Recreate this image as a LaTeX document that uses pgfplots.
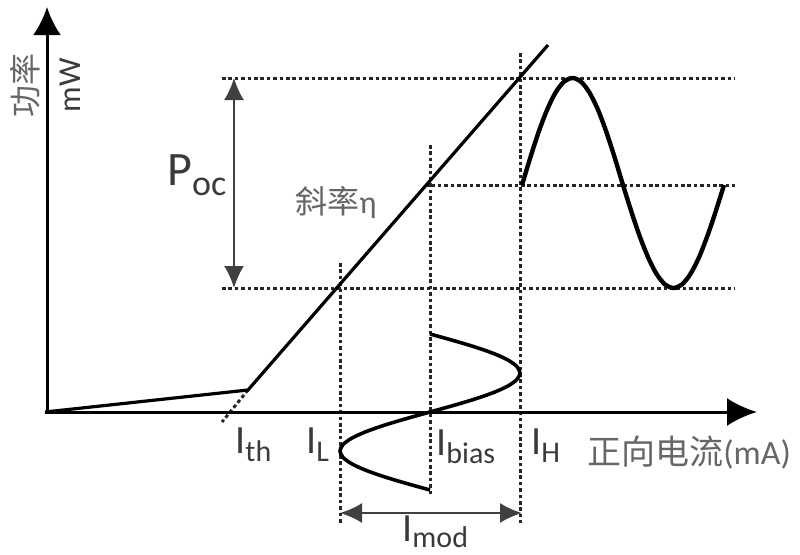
\documentclass[border=0pt]{standalone}
\usepackage{fontspec}
\setmainfont{Carlito}
\newfontfamily\cjk{Noto Sans CJK SC}
\usepackage{pgfplots}
\pgfplotsset{compat=1.18}
\usetikzlibrary{arrows.meta}
\definecolor{txt}{HTML}{3A3A3A}
\definecolor{cjkgray}{HTML}{666666}
\newcommand{\Isub}[1]{{\fontsize{20}{20}\selectfont I\raisebox{-4pt}{\fontsize{15}{15}\selectfont #1}}}
\begin{document}
\begin{tikzpicture}
\begin{axis}[
  width=400pt, height=277pt, scale only axis,
  xmin=0, xmax=800, ymin=0, ymax=554,
  axis lines=none, clip=false,
  every axis plot/.append style={black},
]
% dashed guide lines
\pgfplotsset{dsh/.style={line width=1.5pt, dash pattern=on 1.8pt off 1.4pt, black!85}}
\addplot[dsh] coordinates {(222,476) (735,476)};
\addplot[dsh] coordinates {(425,369) (735,369)};
\addplot[dsh] coordinates {(222,266) (735,266)};
\addplot[dsh] coordinates {(340,291) (340,31)};
\addplot[dsh] coordinates {(430,409) (430,59)};
\addplot[dsh] coordinates {(520,501) (520,31)};
\addplot[dsh] coordinates {(248,164) (222,132)};
% axes
\addplot[line width=1.5pt, -{Latex[length=14pt,width=14pt]}] coordinates {(47,142) (47,547)};
\addplot[line width=1.5pt, -{Latex[length=15pt,width=14pt]}] coordinates {(45,142) (757,142)};
% P-I curve
\addplot[line width=1.6pt] coordinates {(45,142) (248,164) (548,509)};
% output sine
\addplot[line width=2.2pt, smooth] coordinates {
(522,369) (530.4,396.7) (538.8,422.5) (547.3,444.7) (555.7,461.7) (564.1,472.4) (572.5,476)
(580.9,472.4) (589.3,461.7) (597.8,444.7) (606.2,422.5) (614.6,396.7) (623,369)
(631.4,342.3) (639.8,317.5) (648.3,296.2) (656.7,279.8) (665.1,269.5) (673.5,266)
(681.9,269.5) (690.3,279.8) (698.8,296.2) (707.2,317.5) (715.6,342.3) (724,369)};
% input current sine
\addplot[line width=1.8pt, smooth] coordinates {
(430,220) (453.3,213.5) (475,207) (493.6,200.5) (507.9,194) (516.9,187.5) (520,181)
(516.9,174.5) (507.9,168) (493.6,161.5) (475,155) (453.3,148.5) (430,142)
(406.7,135.5) (385,129) (366.4,122.5) (352.1,116) (343.1,109.5) (340,103)
(343.1,96.5) (352.1,90) (366.4,83.5) (385,77) (406.7,70.5) (430,64)};
% P_oc arrow
\addplot[line width=1pt, black!75, {Latex[length=11pt,width=10pt]}-{Latex[length=11pt,width=10pt]}] coordinates {(234,476) (234,266)};
% I_mod arrow
\addplot[line width=1pt, black!75, {Latex[length=11pt,width=10pt]}-{Latex[length=11pt,width=10pt]}] coordinates {(340,41) (522,41)};
% labels
\node[rotate=90, text=cjkgray, font=\cjk\fontsize{16}{16}\selectfont] at (axis cs:25,469) {功率};
\node[rotate=90, text=txt, font=\fontsize{16}{16}\selectfont] at (axis cs:70,469) {mW};
\node[anchor=base west, text=txt, inner sep=0pt] at (axis cs:167,369) {\fontsize{24}{24}\selectfont P\raisebox{-5pt}{\fontsize{18}{18}\selectfont oc}};
\node[text=cjkgray, inner sep=0pt] at (axis cs:336,351) {\cjk\fontsize{16}{16}\selectfont 斜率\fontspec{Carlito}η};
\node[anchor=base west, text=txt, inner sep=0pt] at (axis cs:235,101) {\Isub{th}};
\node[anchor=base west, text=txt, inner sep=0pt] at (axis cs:306,101) {\Isub{L}};
\node[anchor=base west, text=txt, inner sep=0pt] at (axis cs:436,99) {\Isub{bias}};
\node[anchor=base west, text=txt, inner sep=0pt] at (axis cs:531,100) {\Isub{H}};
\node[anchor=west, text=cjkgray, inner sep=0pt] at (axis cs:587,101) {\cjk\fontsize{17}{17}\selectfont 正向电流\fontspec{Carlito}(mA)};
\node[anchor=base west, text=txt, inner sep=0pt] at (axis cs:402,13) {{\fontsize{20}{20}\selectfont I\raisebox{-3pt}{\fontsize{15}{15}\selectfont mod}}};
\end{axis}
\pgfresetboundingbox
\path (current axis.south west) rectangle (current axis.north east);
\end{tikzpicture}
\end{document}
